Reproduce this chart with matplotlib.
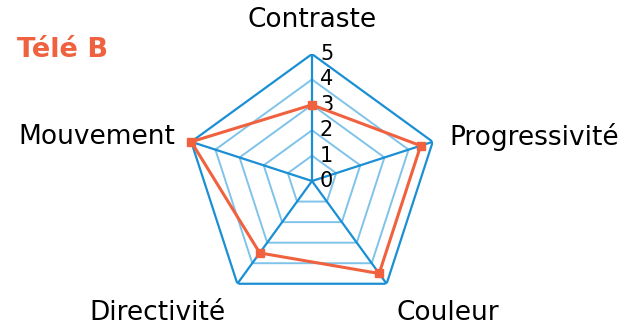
import numpy as np
import matplotlib
matplotlib.use("Agg")
import matplotlib.pyplot as plt

categories = ["Contraste", "Progressivité", "Couleur", "Directivité", "Mouvement"]
values = [3, 4.5, 4.5, 3.5, 5]
ticks = [0, 1, 2, 3, 4, 5]
title = "Télé B"

dark_blue = "#1a8fd4"
light_blue = "#7fc3ea"
red = "#f0623f"

fig = plt.figure(figsize=(6.32, 3.26), dpi=100)
ax = fig.add_axes([0.2927, 0.0552, 0.4019, 0.779], projection="polar")
ax.set_theta_offset(np.pi / 2)
ax.set_theta_direction(-1)
ax.set_ylim(0, 5)
ax.axis("off")

n = len(categories)
theta = np.arange(n) * 2 * np.pi / n
theta_c = np.append(theta, theta[0])

for r in ticks[1:]:
    col = dark_blue if r == ticks[-1] else light_blue
    ax.plot(theta_c, [r] * (n + 1), color=col, lw=1.6 if r == ticks[-1] else 1.4, zorder=2)
for t in theta:
    ax.plot([t, t], [0, ticks[-1]], color=dark_blue, lw=1.6, zorder=3)

vals = values + values[:1]
ax.plot(theta_c, vals, color=red, lw=2.2, zorder=4, clip_on=False)
ax.plot(theta, values, ls="none", marker="s", ms=6, color=red, zorder=5, clip_on=False)

for r in ticks:
    ax.annotate(str(r), xy=(0, r), xytext=(8, 0), textcoords="offset pixels",
                ha="left", va="center", fontsize=15, color="black")

offsets = [(0, 0, "center"), (17, 5, "left"), (61, -29, "center"), (-80, -29, "center"), (-16, 5, "right")]
for t, lab, (dx, dy, ha) in zip(theta, categories, offsets):
    if lab == "Contraste":
        ax.annotate(lab, xy=(t, 0), xytext=(0, 161), textcoords="offset pixels",
                    ha="center", va="center", fontsize=19, annotation_clip=False)
    else:
        ax.annotate(lab, xy=(t, ticks[-1]), xytext=(dx, dy), textcoords="offset pixels",
                    ha=ha, va="center", fontsize=19, annotation_clip=False)

fig.text(17 / 632, 1 - 50 / 326, title, color=red, fontsize=19.5, fontweight="bold",
         ha="left", va="center")

fig.savefig("out.png", dpi=100)
